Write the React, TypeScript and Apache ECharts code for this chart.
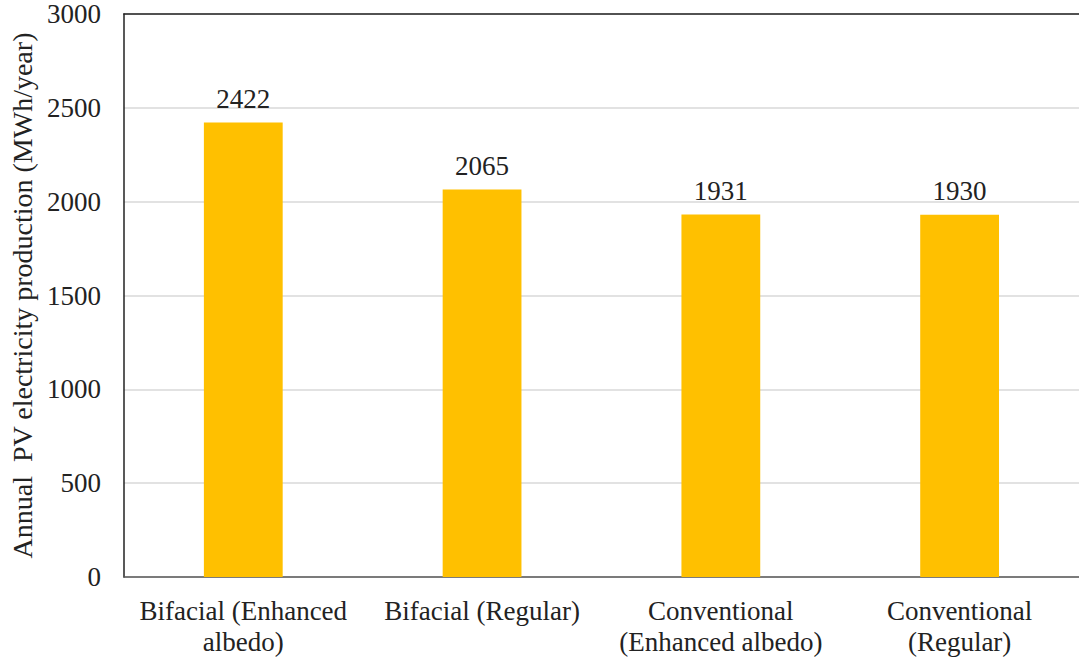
import React, { useEffect, useRef } from "react";
import * as echarts from "echarts";

const categories = [
  "Bifacial (Enhanced\nalbedo)",
  "Bifacial (Regular)",
  "Conventional\n(Enhanced albedo)",
  "Conventional\n(Regular)",
];
const production = [2422, 2065, 1931, 1930];
const yTicks = { min: 0, max: 3000, interval: 500 };

const FONT = "Times New Roman, Liberation Serif, serif";
const SIZE = 27;

export default function App() {
  const ref = useRef<HTMLDivElement>(null);

  useEffect(() => {
    document.body.style.margin = "0";
    const chart = echarts.init(ref.current!, null, { renderer: "svg" });
    chart.setOption({
      animation: false,
      backgroundColor: "#ffffff",
      textStyle: { fontFamily: FONT },
      grid: { left: 123, right: 0, top: 14, bottom: 85 },
      xAxis: [
        {
          type: "category",
          data: categories,
          axisLine: { lineStyle: { color: "#595959", width: 1.5 } },
          axisTick: { show: false },
          axisLabel: {
            color: "#222",
            fontSize: SIZE,
            fontFamily: FONT,
            margin: 18,
            lineHeight: 31,
            interval: 0,
          },
        },
        {
          type: "category",
          position: "top",
          data: categories,
          axisLine: { lineStyle: { color: "#222", width: 1.5 } },
          axisTick: { show: false },
          axisLabel: { show: false },
        },
      ],
      yAxis: {
        type: "value",
        min: yTicks.min,
        max: yTicks.max,
        interval: yTicks.interval,
        name: "Annual  PV electricity production (MWh/year)",
        nameLocation: "middle",
        nameGap: 86,
        nameTextStyle: { fontSize: 28, color: "#222", fontFamily: FONT },
        axisLine: { show: true, lineStyle: { color: "#222", width: 1.5 } },
        axisTick: { show: false },
        axisLabel: {
          color: "#222",
          fontSize: SIZE,
          fontFamily: FONT,
          margin: 23,
          formatter: (v: number) => String(v),
        },
        splitLine: { lineStyle: { color: "#d9d9d9", width: 1.5 } },
      },
      series: [
        {
          type: "bar",
          data: production,
          barWidth: "33%",
          itemStyle: { color: "#FFC000" },
          label: {
            show: true,
            position: "top",
            distance: 10,
            color: "#222",
            fontSize: SIZE,
            fontFamily: FONT,
          },
        },
      ],
    });
    return () => chart.dispose();
  }, []);

  return <div ref={ref} style={{ width: 1079, height: 662 }} />;
}
